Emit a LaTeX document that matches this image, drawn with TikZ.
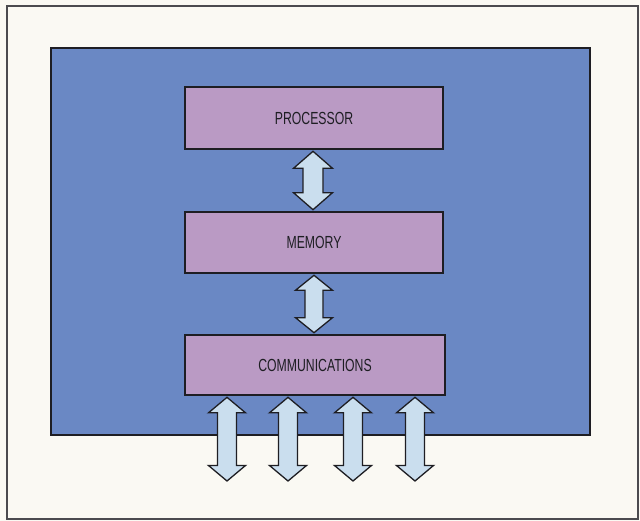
\documentclass[tikz,border=0pt]{standalone}
\usepackage{fontspec}
\setmainfont[FakeStretch=0.7]{Liberation Sans}
\usetikzlibrary{calc}
\definecolor{paper}{RGB}{250,249,243}
\definecolor{panelblue}{RGB}{106,136,196}
\definecolor{boxpink}{RGB}{186,154,196}
\definecolor{arrowblue}{RGB}{202,222,238}
\definecolor{inkline}{RGB}{30,30,35}
\tikzset{
  unitbox/.style={draw=inkline, line width=2.6pt, fill=boxpink, minimum width=258pt,
    minimum height=61pt, inner sep=0pt, font=\fontsize{17.5}{19}\selectfont, text=inkline},
  fatarrow/.style={draw=inkline, line width=1.3pt, fill=arrowblue, line join=miter},
}
% double fat arrow between two points: #1 top tip, #2 bottom tip
\newcommand\fatarrow[5]{% #1 top, #2 bottom, #3 half head, #4 half shaft, #5 head length
  \draw[fatarrow] let \p1=#1, \p2=#2 in
    (\x1,\y1) -- (\x1+#3,\y1-#5) -- (\x1+#4,\y1-#5) -- (\x1+#4,\y2+#5) -- (\x1+#3,\y2+#5)
    -- (\x1,\y2) -- (\x1-#3,\y2+#5) -- (\x1-#4,\y2+#5) -- (\x1-#4,\y1-#5) -- (\x1-#3,\y1-#5) -- cycle;}
\begin{document}
\begin{tikzpicture}[x=1pt,y=1pt]
  \useasboundingbox (0,0) rectangle (640,-521);
  \fill[paper] (0,0) rectangle (640,-521);
  \node[draw=inkline!80, line width=1.4pt, minimum width=631pt, minimum height=513pt, inner sep=0pt]
    (frame) at (322.5,-262.5) {};
  \node[draw=inkline, line width=2.6pt, fill=panelblue, minimum width=539pt, minimum height=387pt,
    inner sep=0pt] (panel) at (320.5,-241.5) {};
  \node[unitbox, minimum height=62pt] (proc) at (314,-118) {PROCESSOR};
  \node[unitbox] (mem) at (314,-242.5) {MEMORY};
  \node[unitbox, minimum width=260pt, minimum height=60pt] (comm) at (315,-365) {COMMUNICATIONS};
  \coordinate (o1) at (227,-481);
  \coordinate (o2) at (288,-481);
  \coordinate (o3) at (353,-481);
  \coordinate (o4) at (415,-481);
  \fatarrow{($(proc.south)+(-1pt,-1pt)$)}{($(mem.north)+(-1pt,1pt)$)}{19.5pt}{10pt}{17pt}
  \fatarrow{($(mem.south)+(0pt,-1pt)$)}{($(comm.north)+(-1pt,1pt)$)}{18.5pt}{9pt}{15pt}
  \fatarrow{($(o1 |- comm.south)+(0,-1pt)$)}{(o1)}{18.5pt}{9.5pt}{15.5pt}
  \fatarrow{($(o2 |- comm.south)+(0,-1pt)$)}{(o2)}{18.5pt}{9.5pt}{15.5pt}
  \fatarrow{($(o3 |- comm.south)+(0,-1pt)$)}{(o3)}{18.5pt}{9.5pt}{15.5pt}
  \fatarrow{($(o4 |- comm.south)+(0,-1pt)$)}{(o4)}{18.5pt}{9.5pt}{15.5pt}
\end{tikzpicture}
\end{document}
